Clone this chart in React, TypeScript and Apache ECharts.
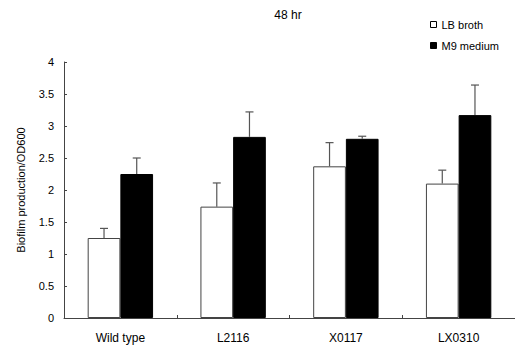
import React, { useEffect, useRef } from "react";
import * as echarts from "echarts";

const categories = ["Wild type", "L2116", "X0117", "LX0310"];
const lbBroth = [1.25, 1.74, 2.37, 2.1];
const lbBrothErr = [0.15, 0.37, 0.37, 0.21];
const m9Medium = [2.25, 2.83, 2.8, 3.17];
const m9MediumErr = [0.25, 0.39, 0.04, 0.47];
const yTicks = { min: 0, max: 4, interval: 0.5 };

const FONT = "Liberation Sans, Arial, sans-serif";
const CAT_GAP = 0.42;

function errorSeries(name: string, vals: number[], errs: number[], side: number) {
  return {
    type: "custom",
    name: name + " err",
    z: 5,
    silent: true,
    data: vals.map((v, i) => [i, v, v + errs[i]]),
    encode: { x: 0, y: [1, 2] },
    renderItem: (params: any, api: any) => {
      const cat = api.value(0);
      const v = api.value(1);
      const hi = api.value(2);
      const p0 = api.coord([cat, v]);
      const p1 = api.coord([cat, hi]);
      const bw = (api.size([1, 0])[0] * (1 - CAT_GAP)) / 2;
      const x = p0[0] + (side * bw) / 2;
      const style = { stroke: "#555", lineWidth: 1.2 };
      return {
        type: "group",
        children: [
          { type: "line", shape: { x1: x, y1: p0[1], x2: x, y2: p1[1] }, style },
          { type: "line", shape: { x1: x - 4, y1: p1[1], x2: x + 4, y2: p1[1] }, style },
        ],
      };
    },
  };
}

export default function App() {
  const ref = useRef<HTMLDivElement>(null);
  useEffect(() => {
    if (!ref.current) return;
    const chart = echarts.init(ref.current, undefined, { renderer: "svg" });
    chart.setOption({
      animation: false,
      textStyle: { fontFamily: FONT },
      grid: { left: 64, top: 62, width: 455, height: 256 },
      graphic: [
        {
          type: "text",
          x: 288,
          y: 15,
          style: {
            text: "48 hr",
            fontSize: 12,
            fontFamily: FONT,
            fill: "#000",
            textAlign: "center",
            textVerticalAlign: "middle",
          },
        },
      ],
      legend: {
        orient: "vertical",
        left: 425,
        top: 14,
        itemWidth: 6,
        itemHeight: 6,
        itemGap: 10,
        icon: "rect",
        textStyle: { fontSize: 11, fontFamily: FONT, color: "#000" },
        data: [
          { name: "LB broth", itemStyle: { color: "#fff", borderColor: "#000", borderWidth: 1 } },
          { name: "M9 medium", itemStyle: { color: "#000", borderColor: "#000", borderWidth: 1 } },
        ],
      },
      xAxis: {
        type: "category",
        data: categories,
        axisLine: { show: true, lineStyle: { color: "#444", width: 1 } },
        axisTick: { show: true, inside: true, length: 3, lineStyle: { color: "#444" } },
        axisLabel: { fontSize: 12, color: "#000", margin: 14, fontFamily: FONT },
      },
      yAxis: {
        type: "value",
        min: yTicks.min,
        max: yTicks.max,
        interval: yTicks.interval,
        name: "Biofilm production/OD600",
        nameLocation: "middle",
        nameGap: 38,
        nameTextStyle: { fontSize: 11, color: "#000", fontFamily: FONT },
        axisLine: { show: true, lineStyle: { color: "#444", width: 1 } },
        axisTick: { show: true, inside: true, length: 3, lineStyle: { color: "#444" } },
        axisLabel: { fontSize: 11, color: "#000", margin: 10, fontFamily: FONT },
        splitLine: { show: false },
      },
      series: [
        {
          type: "bar",
          name: "LB broth",
          data: lbBroth,
          barGap: "0%",
          barCategoryGap: "42%",
          itemStyle: { color: "#fff", borderColor: "#444", borderWidth: 1 },
        },
        {
          type: "bar",
          name: "M9 medium",
          data: m9Medium,
          barGap: "0%",
          barCategoryGap: "42%",
          itemStyle: { color: "#000", borderColor: "#000", borderWidth: 1 },
        },
        errorSeries("LB broth", lbBroth, lbBrothErr, -1),
        errorSeries("M9 medium", m9Medium, m9MediumErr, 1),
      ],
    });
    return () => chart.dispose();
  }, []);
  return <div ref={ref} style={{ width: 515, height: 350, position: "absolute", left: 0, top: 0 }} />;
}
